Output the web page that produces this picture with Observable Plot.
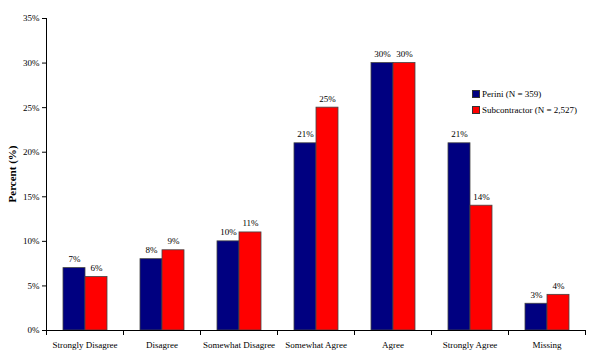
<!DOCTYPE html>
<html>
<head>
<meta charset="utf-8">
<script src="https://cdn.jsdelivr.net/npm/d3@7"></script>
<script src="https://cdn.jsdelivr.net/npm/@observablehq/plot@0.6"></script>
<style>
  html, body { margin: 0; padding: 0; background: #fff; }
  #wrap { position: relative; width: 590px; height: 355px; font-family: "Liberation Serif", "Times New Roman", serif; }
  #legend { position: absolute; left: 472px; top: 86px; font-size: 9px; color: #000; line-height: 16px; }
  #legend .sw { display: inline-block; width: 6px; height: 6px; border: 0.5px solid #333; margin-right: 2px; vertical-align: -0.5px; }
</style>
</head>
<body>
<div id="wrap"><div id="legend"></div></div>
<script>
const categories = ["Strongly Disagree", "Disagree", "Somewhat Disagree", "Somewhat Agree", "Agree", "Strongly Agree", "Missing"];
const seriesNames = ["Perini (N = 359)", "Subcontractor (N = 2,527)"];
const seriesColors = ["#000080", "#ff0000"];
const periniValues = [7, 8, 10, 21, 30, 21, 3];
const subcontractorValues = [6, 9, 11, 25, 30, 14, 4];
const yTicks = [0, 5, 10, 15, 20, 25, 30, 35];

const data = [];
categories.forEach((c, i) => {
  data.push({category: c, series: seriesNames[0], value: periniValues[i]});
  data.push({category: c, series: seriesNames[1], value: subcontractorValues[i]});
});

const W = 590, H = 355, mL = 46, mR = 5, mT = 18, mB = 25;
const band = (W - mL - mR) / categories.length;

const chart = Plot.plot({
  width: W,
  height: H,
  marginLeft: mL,
  marginRight: mR,
  marginTop: mT,
  marginBottom: mB,
  style: {fontFamily: "'Liberation Serif', 'Times New Roman', serif", fontSize: "9px", color: "#000", background: "#fff"},
  fx: {domain: categories, padding: 0, label: null},
  x: {domain: seriesNames, paddingInner: 0, paddingOuter: 0.73, axis: null},
  y: {domain: [0, 35], label: null},
  color: {domain: seriesNames, range: seriesColors},
  marks: [
    Plot.barY(data, {fx: "category", x: "series", y: "value", fill: "series", stroke: "#444", strokeWidth: 0.8}),
    Plot.text(data, {fx: "category", x: "series", y: "value", text: d => d.value + "%", lineAnchor: "bottom", dy: -6, fontSize: 9, fill: "#000"}),
    Plot.axisY({ticks: yTicks, tickFormat: d => d + "%", tickSize: 4, tickPadding: 3, label: null, fontSize: 9}),
    Plot.axisFx({anchor: "bottom", tickSize: 0, tickPadding: 11, label: null, fontSize: 9}),
    Plot.axisFx({anchor: "bottom", tickSize: 5, text: null, label: null, dx: band / 2}),
    Plot.axisFx({anchor: "bottom", tickSize: 5, text: null, label: null, dx: -band / 2}),
    Plot.ruleY([0], {stroke: "#000"}),
    Plot.ruleX([categories[0]], {fx: d => d, x: null, y1: 0, y2: 35, dx: -band / 2, stroke: "#000"})
  ]
});

const svg = chart;
const wrap = document.getElementById("wrap");
wrap.appendChild(svg);
const title = document.createElementNS("http://www.w3.org/2000/svg", "text");
title.setAttribute("transform", `translate(13,${(mT + H - mB) / 2}) rotate(-90)`);
title.setAttribute("text-anchor", "middle");
title.setAttribute("dominant-baseline", "middle");
title.setAttribute("font-weight", "bold");
title.setAttribute("font-size", "11px");
title.textContent = "Percent (%)";
svg.appendChild(title);

const legend = document.getElementById("legend");
seriesNames.forEach((n, i) => {
  const row = document.createElement("div");
  const sw = document.createElement("span");
  sw.className = "sw";
  sw.style.background = seriesColors[i];
  row.appendChild(sw);
  row.appendChild(document.createTextNode(n));
  legend.appendChild(row);
});
</script>
</body>
</html>
